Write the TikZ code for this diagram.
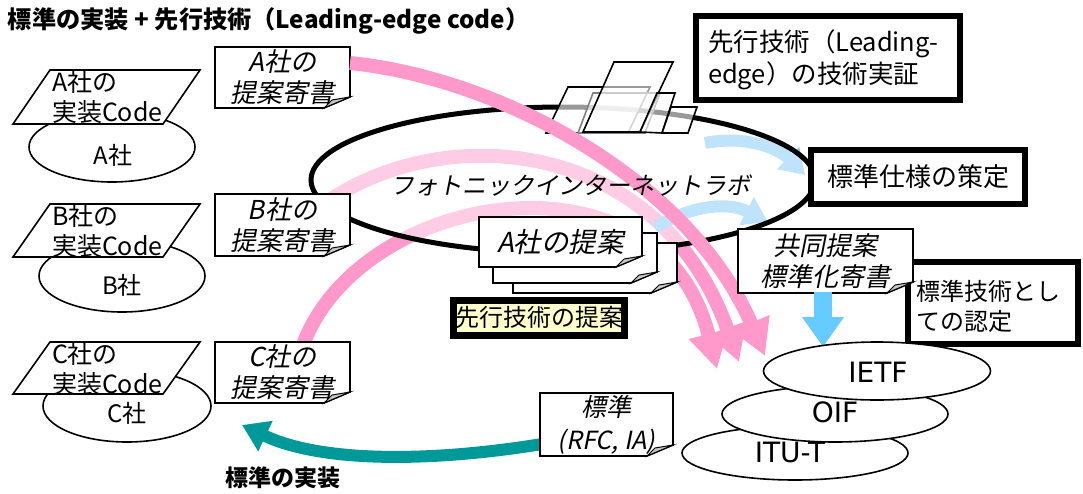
\documentclass[tikz,border=0pt]{standalone}
\usepackage{fontspec}
\setmainfont{Noto Sans CJK JP}
\newfontfamily\itjp[FakeSlant=0.2]{Noto Sans CJK JP}
\newfontfamily\dejavu{DejaVu Sans}
\usetikzlibrary{arrows.meta,shapes.geometric}
\definecolor{pinkA}{HTML}{FF99CC}
\definecolor{blueL}{HTML}{80C8F8}
\definecolor{blueD}{HTML}{66CCFF}
\definecolor{tealA}{HTML}{009999}
\definecolor{yelA}{HTML}{FFFFCC}
\newcommand\mydoc[7][]{%
  \node[minimum width=#5pt,minimum height=#6pt] (#2) at (#3,#4) {};
  \draw[fill=white,line width=1.6pt,line join=miter] (#2.north west) -- (#2.north east) -- ([yshift=11pt]#2.south east) -- ([xshift=-26pt]#2.south east) -- (#2.south west) -- cycle;
  \draw[fill=gray!45,line width=1pt] ([yshift=11pt]#2.south east) -- ([xshift=-26pt]#2.south east) -- ([xshift=-18pt,yshift=8pt]#2.south east) -- cycle;
  \node[ittxt,#1] (#2-t) at (#2.center) {#7};
}
\begin{document}
\begin{tikzpicture}[x=1pt,y=-1pt,
  every node/.style={inner sep=0pt,outer sep=0pt},
  txt/.style={font=\fontsize{25}{31}\selectfont,align=center},
  ittxt/.style={font=\itjp\fontsize{26}{31}\selectfont,align=center},
  latn/.style={font=\dejavu\fontsize{28}{30}\selectfont},
  ln/.style={line width=1.6pt,line join=miter},
  thickbox/.style={draw=black,line width=6pt,fill=white},
  compell/.style={draw,ellipse,line width=1.6pt,fill=white},
  pinkarr/.style={draw=pinkA,line width=14pt,-{Triangle[length=36pt,width=38pt]}},
  bluearr/.style={draw=blueL,line width=12pt,-{Triangle[length=24pt,width=30pt]}},
  page/.style={draw=black,line width=1.6pt,fill=white,fill opacity=0.6,line join=miter},
]
\useasboundingbox (0,0) rectangle (1083,493);

% title
\node[anchor=west,font=\bfseries\fontsize{24.2}{26}\selectfont] (title) at (8,21) {標準の実装 + 先行技術（Leading-edge code）};

% companies
\node[compell,minimum width=166pt,minimum height=70pt] (ca) at (112,147) {};
\node[compell,minimum width=166pt,minimum height=72pt] (cb) at (122,276) {};
\node[compell,minimum width=168pt,minimum height=72pt] (cc) at (127,406) {};
\node[txt,font=\fontsize{24}{30}\selectfont] (ca-t) at (113,155) {A社};
\node[txt,font=\fontsize{24}{30}\selectfont] (cb-t) at (122,285) {B社};
\node[txt,font=\fontsize{24}{30}\selectfont] (cc-t) at (127,413) {C社};
\draw[ln,fill=white] (50,70) -- (200,70) -- (163,124) -- (13,124) -- cycle;
\draw[ln,fill=white] (50,204) -- (200,204) -- (163,257) -- (13,257) -- cycle;
\draw[ln,fill=white] (50,342) -- (200,342) -- (163,394) -- (13,394) -- cycle;
\node[txt,align=left,anchor=west,font=\fontsize{25}{30}\selectfont] (pa) at (52,97) {A社の\\実装Code};
\node[txt,align=left,anchor=west,font=\fontsize{25}{30}\selectfont] (pb) at (52,231) {B社の\\実装Code};
\node[txt,align=left,anchor=west,font=\fontsize{25}{30}\selectfont] (pc) at (52,369) {C社の\\実装Code};

% end points of the pink arrows
\coordinate (aS) at (350,63);
\coordinate (aE) at (765,356);
\coordinate (bS) at (330,200);
\coordinate (bE) at (739,362);
\coordinate (cS) at (303,345);
\coordinate (cE) at (717,369);
\coordinate (b1S) at (705,143);
\coordinate (b1E) at (805,175);
\coordinate (b2S) at (655,228);
\coordinate (b2E) at (768,222);

% arcs behind the lab
\draw[pinkarr] (bS) .. controls (450,120) and (660,140) .. (bE);
\draw[pinkarr] (cS) .. controls (360,190) and (660,140) .. (cE);
\draw[bluearr] (b1S) .. controls (740,136) and (775,145) .. (b1E);
\draw[bluearr] (b2S) .. controls (685,208) and (725,200) .. (b2E);

% the lab
\node[draw=black,ellipse,line width=5pt,fill=white,fill opacity=0.5,draw opacity=1,minimum width=504pt,minimum height=146pt] (lab) at (563,180) {};

% pages
\draw[page] (546,133) -- (568,87) -- (650,87) -- (628,133) -- cycle;
\draw[page,draw=gray] (578,133) -- (593,93) -- (660,93) -- (645,133) -- cycle;
\draw[page] (583,132) -- (614,62) -- (673,62) -- (640,132) -- cycle;
\draw[page] (640,132) -- (657,93) -- (675,93) -- (662,133) -- cycle;
\draw[page] (662,133) -- (671,107) -- (697,107) -- (688,133) -- cycle;

% proposals of the companies
\mydoc{ka}{282.5}{77.5}{135}{61}{A社の\\提案寄書}
\mydoc{kb}{282.5}{225}{135}{62}{B社の\\提案寄書}
\mydoc{kc}{282.5}{372.5}{135}{61}{C社の\\提案寄書}

\draw[pinkarr] (aS) .. controls (500,78) and (690,180) .. (aE);

\node[font=\itjp\fontsize{24}{30}\selectfont] (lab-t) at (570,186) {フォトニックインターネットラボ};

% A proposal stack
\mydoc{s3}{595}{268}{164}{50}{}
\mydoc{s2}{575}{258}{164}{50}{}
\mydoc[font=\itjp\fontsize{27.5}{31}\selectfont]{s1}{560.5}{242}{163}{50}{A社の提案}

\node[draw=black,line width=7pt,fill=yelA,minimum width=171pt,minimum height=35pt,txt,font=\fontsize{24}{30}\selectfont] (sen) at (539,317.5) {先行技術の提案};

% thick boxes
\node[thickbox,minimum width=264pt,minimum height=84pt] (lead) at (828,58) {};
\node[txt,align=left,anchor=west,font=\fontsize{25.5}{32}\selectfont] (lead-t) at (708,60) {先行技術（Leading-\\edge）の技術実証};
\node[thickbox,minimum width=214pt,minimum height=54pt,txt,font=\fontsize{26}{30}\selectfont] (spec) at (918,177) {標準仕様の策定};
\node[thickbox,minimum width=170pt,minimum height=82pt] (nin) at (993,303) {};
\node[txt,align=left,anchor=west,font=\fontsize{24}{30}\selectfont] (nin-t) at (916,306) {標準技術とし\\ての認定};

\mydoc{kyodo}{825.5}{261}{175}{64}{共同提案\\標準化寄書}

\coordinate (bdS) at (823,292);
\coordinate (bdE) at (823,347);
\draw[draw=blueD,line width=18pt,-{Triangle[length=30pt,width=40pt]}] (bdS) -- (bdE);

% standards bodies
\node[compell,minimum width=226pt,minimum height=54pt] (itu) at (795,453) {};
\node[latn] (itu-t) at (790,452) {ITU-T};
\node[compell,minimum width=226pt,minimum height=56pt] (oif) at (835,414) {};
\node[latn] (oif-t) at (835,412) {OIF};
\node[compell,minimum width=227pt,minimum height=58pt] (ietf) at (877,371) {};
\node[latn] (ietf-t) at (878,372) {IETF};

\coordinate (tS) at (560,441);
\coordinate (tE) at (242,425);
\draw[draw=tealA,line width=12pt,-{Triangle[length=26pt,width=32pt]}] (tS) .. controls (430,464) and (320,462) .. (tE);

\mydoc[font=\itjp\fontsize{25}{33}\selectfont]{hyo}{606.5}{424.5}{133}{63}{標準\\(RFC, IA)}

\node[font=\bfseries\fontsize{23}{26}\selectfont] (impl) at (283,478) {標準の実装};
\end{tikzpicture}
\end{document}
